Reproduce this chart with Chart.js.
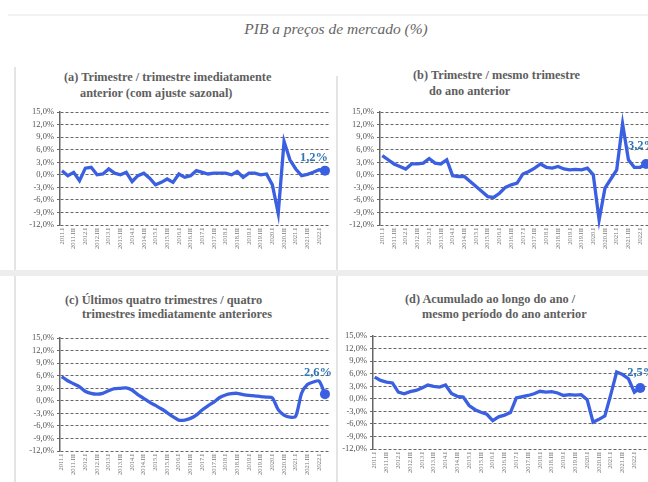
<!DOCTYPE html>
<html><head><meta charset="utf-8">
<script src="https://cdn.jsdelivr.net/npm/chart.js@4.4.0/dist/chart.umd.min.js"></script>
<style>
html,body{margin:0;padding:0;background:#fff;}
body{width:648px;height:482px;position:relative;overflow:hidden;font-family:"Liberation Serif","Times New Roman",serif;}
.sep{position:absolute;background:#e4e4e4;}
.t{position:absolute;white-space:nowrap;font-weight:bold;font-size:12.3px;color:#5e5e5e;line-height:14px;}
.main{position:absolute;left:0;width:672px;top:19px;text-align:center;font-style:italic;font-size:15.5px;color:#666;line-height:20px;}
canvas{position:absolute;}
</style></head><body>
<div class="sep" style="left:8px;top:14px;width:640px;height:2px;background:#f3f3f3"></div>
<div class="sep" style="left:14px;top:67px;width:2px;height:415px"></div>
<div class="sep" style="left:336px;top:76px;width:2px;height:406px"></div>
<div class="sep" style="left:0;top:270px;width:648px;height:6px;background:#ededed"></div>
<div class="main">PIB a preços de mercado (%)</div>
<div class="t" style="left:64px;top:70px">(a) Trimestre / trimestre imediatamente</div>
<div class="t" style="left:80px;top:86px">anterior (com ajuste sazonal)</div>
<div class="t" style="left:413px;top:68px">(b) Trimestre / mesmo trimestre</div>
<div class="t" style="left:429px;top:84px">do ano anterior</div>
<div class="t" style="left:65px;top:293px">(c) Últimos quatro trimestres / quatro</div>
<div class="t" style="left:82px;top:307px">trimestres imediatamente anteriores</div>
<div class="t" style="left:405px;top:292px">(d) Acumulado ao longo do ano /</div>
<div class="t" style="left:422px;top:307px">mesmo período do ano anterior</div>
<canvas id="ca"></canvas>
<canvas id="cb"></canvas>
<canvas id="cc"></canvas>
<canvas id="cd"></canvas>
<script>
const quarters = ['2011.I','2011.II','2011.III','2011.IV','2012.I','2012.II','2012.III','2012.IV',
 '2013.I','2013.II','2013.III','2013.IV','2014.I','2014.II','2014.III','2014.IV',
 '2015.I','2015.II','2015.III','2015.IV','2016.I','2016.II','2016.III','2016.IV',
 '2017.I','2017.II','2017.III','2017.IV','2018.I','2018.II','2018.III','2018.IV',
 '2019.I','2019.II','2019.III','2019.IV','2020.I','2020.II','2020.III','2020.IV',
 '2021.I','2021.II','2021.III','2021.IV','2022.I','2022.II'];

// (a) trimestre / trimestre imediatamente anterior (com ajuste sazonal)
const qoqSA = [1.0,-0.2,0.6,-1.4,1.6,1.8,0.0,0.2,1.4,0.4,0.0,0.6,-1.6,-0.2,0.4,-0.8,-2.4,-1.8,-1.0,-1.8,
 0.2,-0.6,-0.2,1.0,0.6,0.2,0.4,0.4,0.4,0.0,0.8,-0.6,0.4,0.4,0.0,0.2,-2.4,-9.2,8.0,3.6,1.4,-0.2,0.1,0.6,1.2,1.0];
// (b) trimestre / mesmo trimestre do ano anterior
const yoy = [4.6,3.6,2.6,2.0,1.4,2.6,2.6,2.8,3.9,2.8,2.6,3.6,-0.2,-0.4,-0.4,-1.6,-2.8,-4.0,-5.2,-5.4,
 -4.4,-3.0,-2.4,-2.0,0.2,0.8,1.6,2.6,1.8,1.6,2.0,1.4,1.2,1.3,1.2,1.6,0.0,-10.8,-3.2,-1.0,1.2,12.2,3.6,1.8,1.8,2.6];
// (c) ultimos quatro trimestres / quatro trimestres imediatamente anteriores
const fourQ = [5.8,4.8,4.1,3.4,2.3,1.8,1.6,1.8,2.4,2.9,3.0,3.1,2.6,1.5,0.6,-0.3,-1.1,-1.9,-2.8,-3.8,
 -4.6,-4.6,-4.2,-3.4,-2.2,-1.2,-0.3,0.8,1.4,1.7,1.8,1.5,1.3,1.2,1.0,0.9,0.7,-2.1,-3.4,-3.9,-3.7,1.8,3.9,4.5,4.7,1.6];
// (d) acumulado ao longo do ano / mesmo periodo do ano anterior
const accum = [5.2,4.4,4.0,3.8,1.6,1.2,1.7,2.0,2.6,3.3,3.0,2.8,3.3,1.3,0.6,0.4,-1.6,-2.6,-3.2,-3.7,
 -5.2,-4.3,-3.9,-3.3,0.2,0.5,0.8,1.2,1.8,1.6,1.7,1.4,0.8,1.0,0.9,1.0,-0.2,-5.6,-4.9,-4.1,1.0,6.4,5.8,4.8,1.6,2.6];

const lastLabels = ['1,2%','3,2%','2,6%','2,5%'];
const yTicks = {min:-12, max:15, step:3};

const LINE = '#3A5FE0';
const LABEL = '#2F75B5';
Chart.defaults.font.family = '"Liberation Serif", "Times New Roman", serif';

const valueLabel = {
  id: 'valueLabel',
  afterDatasetsDraw(chart, args, o) {
    const meta = chart.getDatasetMeta(0);
    const p = meta.data[meta.data.length - 1];
    const ctx = chart.ctx;
    ctx.save();
    ctx.font = 'bold 12.5px "Liberation Serif"';
    ctx.fillStyle = LABEL;
    ctx.textAlign = 'center';
    ctx.textBaseline = 'middle';
    ctx.fillText(o.text, p.x + o.dx, p.y + o.dy);
    ctx.restore();
  }
};

function makePanel(id, values, text, t) {
  const canvas = document.getElementById(id);
  const pts = values.map((v, i) => ({x: i, y: v}));
  const last = values.length - 1;
  const chart = new Chart(canvas, {
    type: 'line',
    data: { datasets: [{
      data: pts, borderColor: LINE, backgroundColor: LINE, borderWidth: 3.3,
      tension: t.tension || 0, clip: false,
      pointRadius: c => c.dataIndex === last ? 5 : 0,
      pointHoverRadius: 0, pointBackgroundColor: LINE, pointBorderWidth: 0
    }]},
    options: {
      responsive: false, maintainAspectRatio: false, animation: false,
      layout: {padding: 0},
      plugins: { legend: {display: false}, tooltip: {enabled: false},
        valueLabel: {text: text, dx: t.dx, dy: t.dy} },
      scales: {
        x: { type: 'linear', min: t.xmin, max: t.xmax,
          grid: {display: false, drawTicks: false}, border: {display: false},
          ticks: { stepSize: 2, autoSkip: false, includeBounds: false, minRotation: 90, maxRotation: 90,
            padding: 3, color: '#777', font: {size: 6.5},
            callback: v => quarters[v] !== undefined ? quarters[v] : '' },
          afterFit: s => { s.height = 32; } },
        y: { min: yTicks.min, max: yTicks.max,
          grid: {color: '#666', lineWidth: 1, tickLength: 3, tickColor: '#666'},
          border: {display: true, color: '#666', width: 1.5, dash: [3, 2]},
          ticks: { stepSize: yTicks.step, autoSkip: false, padding: 3, color: '#555', font: {size: 8.5},
            callback: v => v.toFixed(1).replace('.', ',') + '%' },
          afterFit: s => { s.width = 34; } }
      }
    },
    plugins: [valueLabel]
  });
  const ca = chart.chartArea;
  const extraW = chart.width - (ca.right - ca.left);
  const extraH = chart.height - (ca.bottom - ca.top);
  chart.resize(Math.round(t.right - t.left + extraW), Math.round(t.bottom - t.top + extraH));
  const ca2 = chart.chartArea;
  canvas.style.left = Math.round(t.left - ca2.left) + 'px';
  canvas.style.top = Math.round(t.top - ca2.top) + 'px';
  return chart;
}

makePanel('ca', qoqSA, lastLabels[0], {left:60, right:330, top:112.3, bottom:225, xmin:-0.34, xmax:45.86, dx:-11, dy:-12.5});
makePanel('cb', yoy, lastLabels[1], {left:380, right:648, top:112.3, bottom:225, xmin:-0.39, xmax:45.34, dx:-4, dy:-18});
makePanel('cc', fourQ, lastLabels[2], {left:60, right:330, top:337.7, bottom:451, xmin:-0.3, xmax:45.86, dx:-7, dy:-21, tension:0.25});
makePanel('cd', accum, lastLabels[3], {left:373, right:648, top:336, bottom:449.3, xmin:-0.29, xmax:46.36, dx:1, dy:-15});
</script>
</body></html>
